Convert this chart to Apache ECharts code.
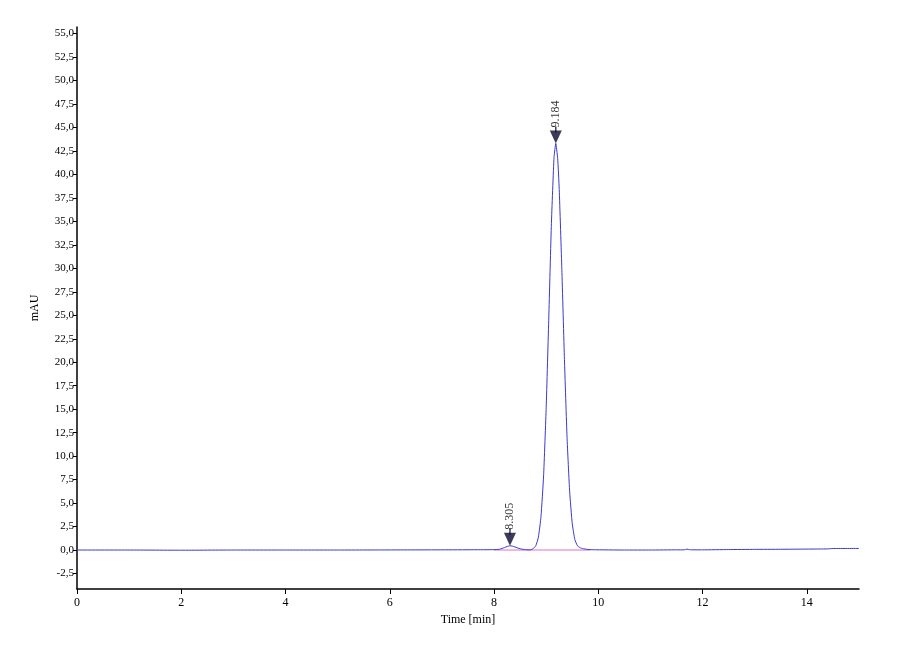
<!DOCTYPE html>
<html>
<head>
<meta charset="utf-8">
<script src="https://cdn.jsdelivr.net/npm/echarts@6/dist/echarts.min.js"></script>
<style>html,body{margin:0;padding:0;background:#fff;}#c{width:900px;height:660px;}</style>
</head>
<body>
<div id="c"></div>
<script>
// Chromatogram signal: [time (min), mAU]
const signal = [
  [0.0, 0.0], [1.0, 0.0], [2.0, -0.02], [3.0, 0.0], [4.0, 0.0], [5.0, 0.0],
  [6.0, 0.01], [7.0, 0.02], [7.6, 0.03], [8.0, 0.04], [8.1, 0.08], [8.2, 0.26],
  [8.25, 0.38], [8.305, 0.45], [8.35, 0.42], [8.4, 0.33], [8.5, 0.13], [8.6, 0.04],
  [8.65, 0.02], [8.7, 0.03], [8.75, 0.15], [8.8, 0.45], [8.85, 1.36], [8.9, 3.55],
  [8.95, 7.9], [9.0, 15.2], [9.05, 24.8], [9.1, 34.8], [9.15, 41.8], [9.184, 43.3],
  [9.22, 41.7], [9.25, 38.4], [9.3, 29.9], [9.35, 20.3], [9.4, 12.0], [9.45, 6.2],
  [9.5, 2.8], [9.55, 1.1], [9.6, 0.45], [9.65, 0.25], [9.7, 0.15], [9.8, 0.06],
  [9.9, 0.03], [10.5, 0.0], [11.0, 0.0], [11.5, 0.02], [11.65, 0.02], [11.7, 0.1],
  [11.75, 0.03], [12.0, 0.02], [12.5, 0.05], [13.0, 0.07], [13.5, 0.08], [14.0, 0.1],
  [14.4, 0.12], [14.5, 0.16], [15.0, 0.17]
];
// Integration baseline (pink)
const integrationBaseline = [[8.0, 0.0], [9.85, 0.0]];
// Peak apexes: [retention time, height]
const peaks = [[8.305, 0.45], [9.184, 43.3]];
const peakLabels = ['8.305', '9.184'];
// Tick labels
const yTicks = [-2.5, 0, 2.5, 5, 7.5, 10, 12.5, 15, 17.5, 20, 22.5, 25, 27.5, 30, 32.5, 35, 37.5, 40, 42.5, 45, 47.5, 50, 52.5, 55];
const xTicks = [0, 2, 4, 6, 8, 10, 12, 14];

const font = 'Liberation Serif';
const chart = echarts.init(document.getElementById('c'), null, {renderer: 'canvas'});
chart.setOption({
  backgroundColor: '#ffffff',
  animation: false,
  grid: {left: 77, right: 41, top: 27, bottom: 71, containLabel: false},
  xAxis: {
    type: 'value', min: 0, max: 15,
    name: 'Time [min]', nameLocation: 'middle', nameGap: 24,
    nameTextStyle: {fontFamily: font, fontSize: 12, color: '#000'},
    axisLine: {onZero: false, lineStyle: {color: '#000', width: 1.5}},
    axisTick: {show: true, length: 5, lineStyle: {color: '#000'}, customValues: xTicks},
    axisLabel: {customValues: xTicks, fontFamily: font, fontSize: 12, color: '#000', margin: 8},
    splitLine: {show: false}
  },
  yAxis: {
    type: 'value', min: -4.15, max: 55.7,
    name: 'mAU', nameLocation: 'middle', nameGap: 36,
    nameTextStyle: {fontFamily: font, fontSize: 12, color: '#000'},
    axisLine: {show: true, lineStyle: {color: '#000', width: 1.5}},
    axisTick: {show: true, length: 4, lineStyle: {color: '#000'}, customValues: yTicks},
    axisLabel: {
      customValues: yTicks, fontFamily: font, fontSize: 11, color: '#000', margin: 3,
      formatter: v => v.toFixed(1).replace('.', ',')
    },
    splitLine: {show: false}
  },
  series: [
    {
      type: 'line', data: integrationBaseline, symbol: 'none',
      lineStyle: {color: '#e070d0', width: 1}, z: 2
    },
    {
      type: 'line', data: signal, symbol: 'none', smooth: 0.15,
      lineStyle: {color: '#3a3acc', width: 1}, z: 3
    },
    {
      type: 'scatter', data: peaks,
      symbol: 'rect', symbolSize: [1.5, 6], symbolOffset: [0, -14],
      itemStyle: {color: '#0a0a30'}, z: 5, silent: true
    },
    {
      type: 'scatter', data: peaks,
      symbol: 'triangle', symbolRotate: 180, symbolSize: [12, 13], symbolOffset: [0, -6.5],
      itemStyle: {color: '#0a0a30'}, z: 5,
      label: {
        show: true, position: 'top', distance: 3, rotate: 90,
        align: 'left', verticalAlign: 'middle',
        fontFamily: font, fontSize: 12, color: '#000',
        formatter: p => peakLabels[p.dataIndex]
      }
    }
  ]
});
</script>
</body>
</html>
